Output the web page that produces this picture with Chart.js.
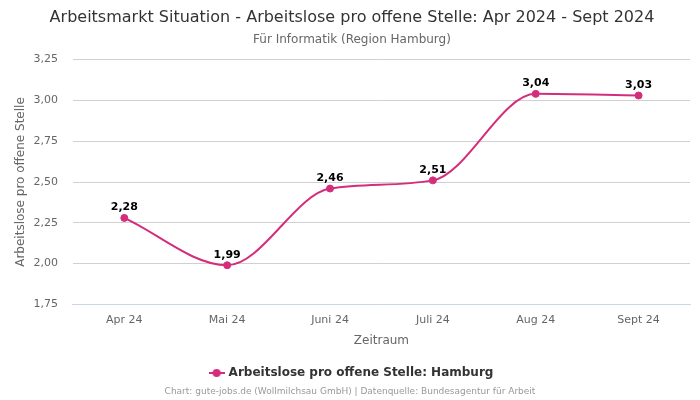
<!DOCTYPE html>
<html lang="de">
<head>
<meta charset="utf-8">
<script src="https://cdn.jsdelivr.net/npm/chart.js@4"></script>
<style>
  html, body { margin: 0; padding: 0; background: #fff; }
  #wrap { width: 700px; height: 400px; }
</style>
</head>
<body>
<div id="wrap"><canvas id="chart"></canvas></div>
<script>
const months = ['Apr 24', 'Mai 24', 'Juni 24', 'Juli 24', 'Aug 24', 'Sept 24'];
const hamburg = [2.28, 1.99, 2.46, 2.51, 3.04, 3.03];
const yTicks = [1.75, 2.00, 2.25, 2.50, 2.75, 3.00, 3.25];

const pink = '#d42d7c';
const fmt = v => v.toFixed(2).replace('.', ',');

// little line-with-dot symbol for the legend
const legendIcon = document.createElement('canvas');
legendIcon.width = 16;
legendIcon.height = 10;
(function () {
  const c = legendIcon.getContext('2d');
  c.strokeStyle = pink;
  c.fillStyle = pink;
  c.lineWidth = 2;
  c.beginPath();
  c.moveTo(0, 5);
  c.lineTo(16, 5);
  c.stroke();
  c.beginPath();
  c.arc(8, 5, 4, 0, Math.PI * 2);
  c.fill();
})();

// Values above the points
const valueLabels = {
  id: 'valueLabels',
  afterDatasetsDraw(chart) {
    const ctx = chart.ctx;
    const meta = chart.getDatasetMeta(0);
    ctx.save();
    ctx.font = 'bold 11px "DejaVu Sans"';
    ctx.fillStyle = '#000';
    ctx.textAlign = 'center';
    ctx.textBaseline = 'bottom';
    meta.data.forEach((pt, i) => {
      ctx.fillText(fmt(hamburg[i]), pt.x, pt.y - 5);
    });
    ctx.restore();
  }
};

// Source line at the very bottom
const footer = {
  id: 'footer',
  afterDraw(chart) {
    const ctx = chart.ctx;
    ctx.save();
    ctx.font = '9px "DejaVu Sans"';
    ctx.fillStyle = '#999';
    ctx.textAlign = 'center';
    ctx.textBaseline = 'middle';
    ctx.fillText('Chart: gute-jobs.de (Wollmilchsau GmbH) | Datenquelle: Bundesagentur für Arbeit', chart.width / 2, 392);
    ctx.restore();
  }
};

const chart = new Chart(document.getElementById('chart'), {
  type: 'line',
  data: {
    labels: months,
    datasets: [{
      label: 'Arbeitslose pro offene Stelle: Hamburg',
      data: hamburg,
      borderColor: pink,
      backgroundColor: pink,
      borderWidth: 2,
      pointRadius: 3.5,
      pointBorderWidth: 1,
      pointHoverRadius: 4,
      cubicInterpolationMode: 'monotone',
      fill: false
    }]
  },
  options: {
    responsive: true,
    maintainAspectRatio: false,
    animation: false,
    layout: { padding: { left: 14, right: 10, top: 0, bottom: 11 } },
    plugins: {
      title: {
        display: true,
        text: 'Arbeitsmarkt Situation - Arbeitslose pro offene Stelle: Apr 2024 - Sept 2024',
        color: '#333',
        font: { family: 'DejaVu Sans', size: 16, weight: 'normal' },
        padding: { top: 8, bottom: 5 }
      },
      subtitle: {
        display: true,
        text: 'Für Informatik (Region Hamburg)',
        color: '#666',
        font: { family: 'DejaVu Sans', size: 12 },
        padding: { bottom: 13 }
      },
      legend: {
        position: 'bottom',
        labels: {
          color: '#333',
          font: { family: 'DejaVu Sans', size: 12, weight: 'bold' },
          usePointStyle: true,
          boxWidth: 16,
          boxHeight: 10,
          padding: 16,
          generateLabels(chart) {
            return [{
              text: chart.data.datasets[0].label,
              strokeStyle: pink,
              fillStyle: pink,
              lineWidth: 0,
              pointStyle: legendIcon,
              fontColor: '#333',
              datasetIndex: 0
            }];
          }
        }
      },
      tooltip: { enabled: false }
    },
    scales: {
      x: {
        offset: true,
        grid: { display: false },
        border: { color: '#ccd6eb' },
        ticks: { color: '#666', font: { family: 'DejaVu Sans', size: 11 }, padding: 1 },
        title: {
          display: true,
          text: 'Zeitraum',
          color: '#666',
          font: { family: 'DejaVu Sans', size: 12 },
          padding: { top: 6, bottom: 3 }
        }
      },
      y: {
        min: 1.75,
        max: 3.25,
        afterBuildTicks(axis) { axis.ticks = yTicks.map(v => ({ value: v })); },
        grid: { color: '#d0d0d0', drawTicks: false },
        border: { display: false },
        ticks: {
          color: '#666',
          font: { family: 'DejaVu Sans', size: 11 },
          padding: 15,
          callback: v => fmt(v)
        },
        title: {
          display: true,
          text: 'Arbeitslose pro offene Stelle',
          color: '#666',
          font: { family: 'DejaVu Sans', size: 12 },
          padding: { top: 0, bottom: -10 }
        }
      }
    }
  },
  plugins: [valueLabels, footer]
});
</script>
</body>
</html>
